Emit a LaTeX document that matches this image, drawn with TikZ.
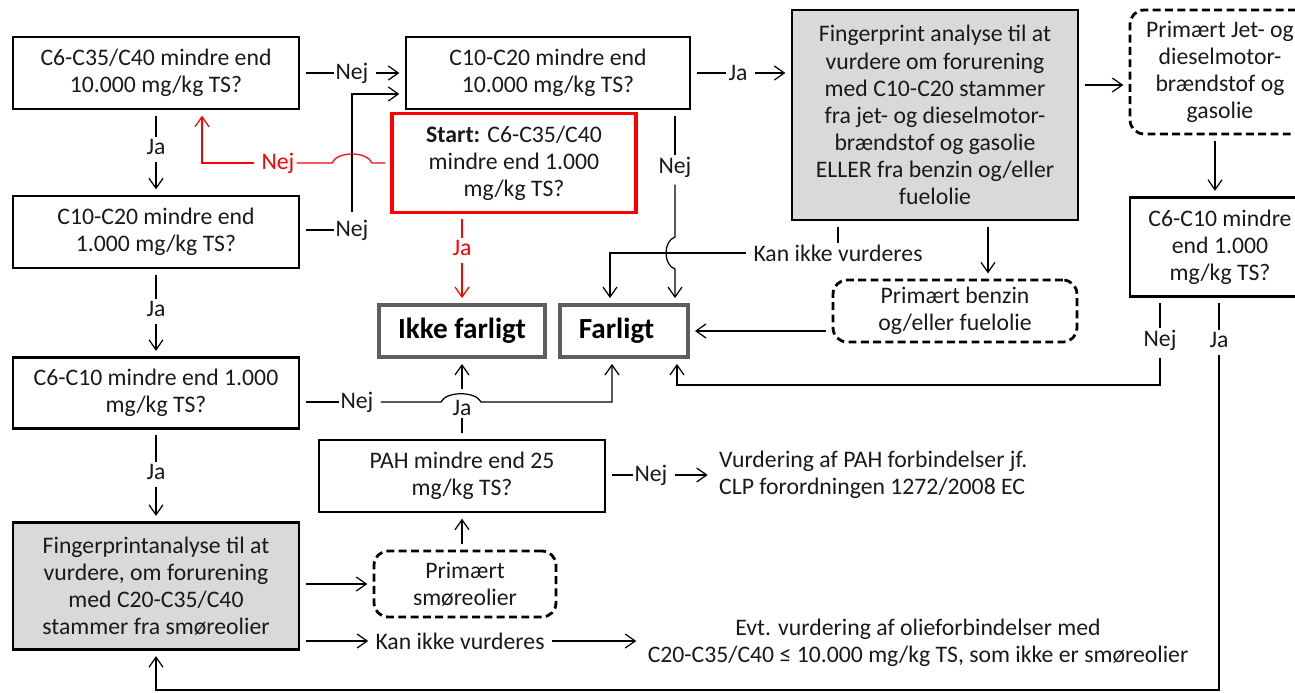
\documentclass[tikz,border=0pt]{standalone}
\usepackage{fontspec}
\setmainfont{Carlito}
\definecolor{boxgray}{RGB}{217, 217, 217}
\definecolor{framegray}{RGB}{95, 95, 95}
\definecolor{startred}{RGB}{255, 0, 0}
\usetikzlibrary{arrows.meta, positioning}
\tikzset{
	txt/.style={font=\fontsize{13.5}{15.4}\selectfont, text=black!90},
	qbox/.style={rectangle, draw=black, line width=1.6pt, align=center, inner sep=1pt, txt},
	greybox/.style={qbox, fill=boxgray},
	startbox/.style={qbox, draw=startred, line width=1.9pt},
	endbox/.style={rectangle, draw=framegray, line width=1.9pt, align=center, font=\fontsize{16.6}{19}\selectfont\bfseries},
	dashbox/.style={rectangle, rounded corners=8pt, draw=black, line width=1.6pt, dash pattern=on 4.5pt off 2.5pt, align=center, inner sep=1pt, txt},
	lbl/.style={txt, inner sep=1pt},
	redlbl/.style={lbl, text=startred},
	conn/.style={line width=0.7pt, draw=black, shorten <=3pt},
	arrow/.style={conn, -{Straight Barb[length=2mm, width=2.8mm]}, shorten >=3pt},
	redconn/.style={line width=0.7pt, draw=startred, shorten <=3pt},
	redarrow/.style={redconn, -{Straight Barb[length=2mm, width=2.8mm]}, shorten >=3pt},
}

\begin{document}
\begin{tikzpicture}[x=0.02cm, y=-0.02cm]
	\useasboundingbox (0,0) rectangle (1295,693);
	\node[qbox, minimum width=5.72cm, minimum height=1.44cm] (c635) at (156,73) {C6-C35/C40 mindre end\\10.000 mg/kg TS?};
	\node[qbox, minimum width=5.72cm, minimum height=1.44cm] (c1020a) at (156,232) {C10-C20 mindre end\\1.000 mg/kg TS?};
	\node[qbox, minimum width=5.72cm, minimum height=1.42cm] (c610a) at (156,393) {C6-C10 mindre end 1.000\\mg/kg TS?};
	\node[greybox, minimum width=5.72cm, minimum height=2.54cm] (fpsmo) at (156,586) {Fingerprintanalyse til at\\vurdere, om forurening\\med C20-C35/C40\\stammer fra smøreolier};
	\node[qbox, minimum width=5.68cm, minimum height=1.44cm] (c1020b) at (548,73) {C10-C20 mindre end\\10.000 mg/kg TS?};
	\node[startbox, minimum width=4.88cm, minimum height=1.98cm] (start) at (514,163) {\textbf{Start:} C6-C35/C40\\mindre end 1.000\\mg/kg TS?};
	\node[endbox, minimum width=3.32cm, minimum height=1.04cm] (ikke) at (462,331) {Ikke farligt};
	\node[endbox, minimum width=2.56cm, minimum height=1.04cm] (farligt) at (624,331) {Farligt\hspace{0.3cm}};
	\node[qbox, minimum width=5.72cm, minimum height=1.44cm] (pah) at (462,476) {PAH mindre end 25\\mg/kg TS?};
	\node[dashbox, minimum width=3.64cm, minimum height=1.32cm] (smore) at (465,584) {Primært\\smøreolier};
	\node[greybox, minimum width=5.72cm, minimum height=4.2cm] (fpjet) at (935,115) {Fingerprint analyse til at\\vurdere om forurening\\med C10-C20 stammer\\fra jet- og dieselmotor-\\brændstof og gasolie\\ELLER fra benzin og/eller\\fuelolie};
	\node[dashbox, minimum width=4.88cm, minimum height=1.24cm] (benzin) at (955,311) {Primært benzin\\og/eller fuelolie};
	\node[dashbox, minimum width=3.6cm, minimum height=2.48cm] (jet) at (1220,72) {Primært Jet- og\\dieselmotor-\\brændstof og\\gasolie};
	\node[qbox, minimum width=3.6cm, minimum height=1.98cm] (c610b) at (1220,247) {C6-C10 mindre\\end 1.000\\mg/kg TS?};
	\node[txt, align=left, anchor=west] (vurd) at (713,475) {Vurdering af PAH forbindelser jf.\\CLP forordningen 1272/2008 EC};
	\node[txt, align=center] (evt) at (918,643) {Evt. vurdering af olieforbindelser med\\C20-C35/C40 ≤ 10.000 mg/kg TS, som ikke er smøreolier};

	\node[lbl] (ja1) at (156,147) {Ja};
	\node[lbl] (ja2) at (156,309) {Ja};
	\node[lbl] (ja3) at (156,472) {Ja};
	\node[lbl] (nej1) at (352,73) {Nej};
	\node[lbl] (nej2) at (352,230) {Nej};
	\node[redlbl] (nejred) at (278,163) {Nej};
	\node[redlbl] (jared) at (462,248) {Ja};
	\node[lbl] (jaout) at (738,73) {Ja};
	\node[lbl] (nej5) at (675,167) {Nej};
	\node[lbl] (kan1) at (838,253) {Kan ikke vurderes};
	\node[lbl] (nej3) at (357,402) {Nej};
	\node[lbl] (jap) at (462,408) {Ja};
	\node[lbl] (nejp) at (651,475) {Nej};
	\node[lbl] (kan2) at (460,641) {Kan ikke vurderes};
	\node[lbl] (nej6) at (1160,340) {Nej};
	\node[lbl] (ja6) at (1219,340) {Ja};

	\coordinate (b5in) at ([yshift=-0.42cm]c1020b.west);
	\coordinate (fpb) at ([xshift=1.06cm]fpjet.south);
	\coordinate (fpo) at ([yshift=0.6cm]fpjet.east);
	\coordinate (fin) at ([xshift=1.06cm]farligt.south);
	\coordinate (nejbend) at (1160,385);
	\coordinate (jabend) at (1219,690);

	\draw[conn] (c635.south) -- (ja1);
	\draw[arrow] (ja1) -- (c1020a.north);
	\draw[conn] (c1020a.south) -- (ja2);
	\draw[arrow] (ja2) -- (c610a.north);
	\draw[conn] (c610a.south) -- (ja3);
	\draw[arrow] (ja3) -- (fpsmo.north);
	\draw[conn] (c635.east) -- (nej1);
	\draw[arrow] (nej1) -- (c1020b.west);
	\draw[conn] (c1020a.east |- nej2) -- (nej2);
	\draw[arrow] (nej2) |- (b5in);
	\draw[redconn] (start.west) -- (372,163) .. controls (367,151) and (337,151) .. (332,163) -- (nejred);
	\draw[redarrow] (nejred) -| ([xshift=0.92cm]c635.south);
	\draw[redconn] (start.south -| jared) -- (jared);
	\draw[redarrow] (jared) -- (ikke.north);
	\draw[conn] (c1020b.east) -- (jaout);
	\draw[arrow] (jaout) -- (fpjet.west |- jaout);
	\draw[conn] (c1020b.south -| nej5) -- (nej5);
	\draw[arrow] (nej5) -- (675,237) .. controls (663,241) and (663,265) .. (675,269) -- (farligt.north -| nej5);
	\draw[conn] (fpjet.south -| kan1) -- (kan1);
	\draw[arrow] (kan1) -| ([xshift=-0.28cm]farligt.north);
	\draw[arrow] (fpb) -- (fpb |- benzin.north);
	\draw[arrow] (benzin.west |- farligt) -- (farligt.east);
	\draw[arrow] (fpo) -- (fpo -| jet.west);
	\draw[arrow] ([xshift=-0.1cm]jet.south) -- ([xshift=-0.1cm]c610b.north);
	\draw[conn] (c610b.south -| nej6) -- (nej6);
	\draw[conn] (c610b.south -| ja6) -- (ja6);
	\draw[arrow] (nej6) -- (nejbend) -| (fin);
	\draw[arrow] (ja6) -- (jabend) -| (fpsmo.south);
	\draw[conn] (c610a.east |- nej3) -- (nej3);
	\draw[arrow] (nej3) -- (441,402) .. controls (446,391) and (476,391) .. (481,402) -| ([xshift=-0.24cm]farligt.south);
	\draw[conn] (pah.north) -- (jap);
	\draw[arrow, shorten <=5pt] (jap) -- (ikke.south);
	\draw[conn] (pah.east |- nejp) -- (nejp);
	\draw[arrow] (nejp) -- (vurd.west |- nejp);
	\draw[arrow] (smore.north -| pah.south) -- (pah.south);
	\draw[arrow] (fpsmo.east |- smore) -- (smore.west);
	\draw[arrow] (fpsmo.east |- kan2) -- (kan2);
	\draw[arrow] (kan2) -- (evt.west |- kan2);
\end{tikzpicture}
\end{document}
